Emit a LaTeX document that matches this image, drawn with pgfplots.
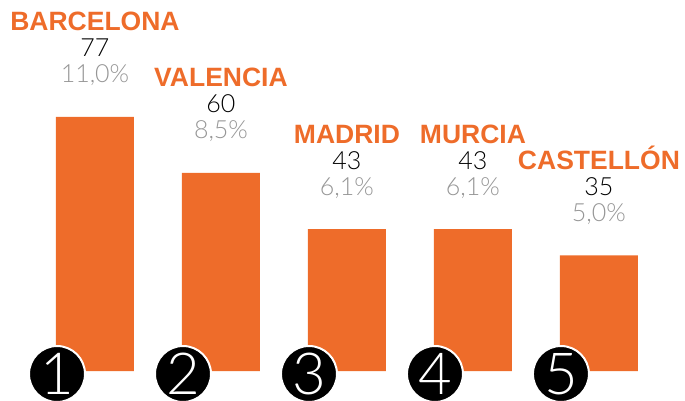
\documentclass[border=0pt]{standalone}
\usepackage{pgfplots}
\pgfplotsset{compat=1.18}
\usepackage{fontspec}
\setmainfont{Liberation Sans}
\newfontfamily\thinfont{Lato}[UprightFont={* Light}]
\definecolor{orng}{RGB}{238,108,42}
\definecolor{pgray}{RGB}{150,150,150}
\begin{document}
\begin{tikzpicture}
\begin{axis}[
  hide axis, scale only axis,
  width=685pt, height=401pt,
  xmin=-0.754, xmax=4.683,
  ymin=-9.09, ymax=112.42,
  clip=false,
]
% bars
\addplot[ybar, bar shift=0pt, bar width=78pt, fill=orng, draw=none]
  coordinates {(0,77) (1,60) (2,43) (3,43) (4,35)};
% city names
\addplot[draw=none, mark=none, nodes near coords, point meta=explicit symbolic,
  every node near coord/.append style={anchor=base, yshift=86pt, inner sep=0pt,
    text=orng, font=\bfseries\fontsize{26.5}{26.5}\selectfont}]
  coordinates {(0,77)[BARCELONA] (1,60)[VALENCIA] (2,43)[MADRID] (3,43)[MURCIA] (4,35)[CASTELLÓN]};
% counts
\addplot[draw=none, mark=none, nodes near coords, point meta=explicit symbolic,
  every node near coord/.append style={anchor=base, yshift=60pt, inner sep=0pt,
    text=black, font=\thinfont\fontsize{25}{25}\selectfont}]
  coordinates {(0,77)[77] (1,60)[60] (2,43)[43] (3,43)[43] (4,35)[35]};
% percentages
\addplot[draw=none, mark=none, nodes near coords, point meta=explicit symbolic,
  every node near coord/.append style={anchor=base, yshift=34pt, inner sep=0pt,
    text=pgray, font=\thinfont\fontsize{25}{25}\selectfont}]
  coordinates {(0,77)[11,0\%] (1,60)[8,5\%] (2,43)[6,1\%] (3,43)[6,1\%] (4,35)[5,0\%]};
% rank circles
\addplot[only marks, mark=*, mark size=28pt,
  mark options={fill=black, draw=white, line width=2pt},
  nodes near coords, point meta=explicit symbolic,
  every node near coord/.append style={anchor=center, inner sep=0pt,
    text=white, font=\thinfont\fontsize{58}{58}\selectfont}]
  coordinates {(-0.3016,-0.91)[1] (0.6984,-0.91)[2] (1.6984,-0.91)[3] (2.6984,-0.91)[4] (3.6984,-0.91)[5]};
\end{axis}
\pgfresetboundingbox
\useasboundingbox (current axis.south west) rectangle (current axis.north east);
\end{tikzpicture}
\end{document}
